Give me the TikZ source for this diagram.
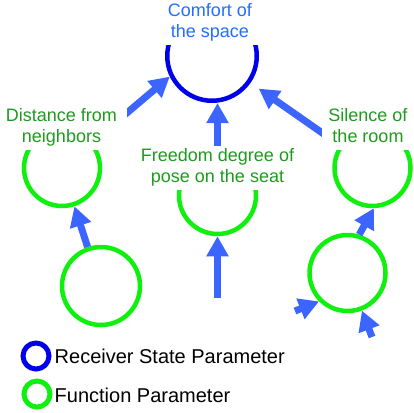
\documentclass[tikz,border=0pt]{standalone}
\usepackage{fontspec}
\setmainfont{Liberation Sans}
\usetikzlibrary{arrows.meta}
\definecolor{statblue}{RGB}{0,0,235}
\definecolor{funcgreen}{RGB}{15,240,15}
\definecolor{labgreen}{RGB}{30,155,30}
\definecolor{labblue}{RGB}{35,110,255}
\definecolor{arrblue}{RGB}{60,100,255}
\begin{document}
\begin{tikzpicture}[x=1pt,y=-1pt,
  param/.style={circle,draw,line width=4.5pt,inner sep=0pt,minimum size=#1},
  state/.style={param=#1,draw=statblue},
  func/.style={param=#1,draw=funcgreen},
  flow/.style={draw=arrblue,line width=7pt,-{Triangle[length=20pt,width=21pt]}},
  lab/.style={fill=white,align=center,inner xsep=2pt,inner ysep=1pt,anchor=south,
    font=\fontsize{18}{21}\selectfont},
  key/.style={anchor=base west,inner sep=0pt,font=\fontsize{20}{24}\selectfont}]
\useasboundingbox (0,0) rectangle (414,412);

% parameter circles
\node[state=89.5] (comfort) at (212,56) {};
\node[func=76] (dist) at (62,168) {};
\node[func=78] (distsrc) at (101,286) {};
\node[func=77] (pose) at (217.5,195.5) {};
\node[func=76] (silence) at (372.5,168) {};
\node[func=76] (silsrc) at (347.5,273) {};

% free tails of the incoming arrows
\coordinate (posein) at (217.5,298);
\coordinate (silinA) at (295,311);
\coordinate (silinB) at (372,337);

% influence arrows
\draw[flow] (distsrc.109) -- (dist.288);
\draw[flow] (posein) -- (pose.south);
\draw[flow] (pose.north) -- (pose.north |- comfort.south);
\draw[flow] (dist) -- (comfort.206);
\draw[flow,shorten >=10pt] (silence) -- (comfort);
\draw[flow] (silsrc.73) -- (silence.272);
\draw[flow] (silinA) -- (silsrc.225);
\draw[flow] (silinB) -- (silsrc.291);

% labels (white boxes cover the circle tops and arrow tails)
\node[lab,text=labblue,minimum width=100pt] (comfortlab) at (210,45.3)
  {\strut Comfort of\\the space\strut};
\node[lab,text=labgreen,minimum width=131pt] (distlab) at (61.5,150.3)
  {\strut Distance from\\neighbors\strut};
\node[lab,text=labgreen] (poselab) at (217.5,190.3)
  {\strut Freedom degree of\\pose on the seat\strut};
\node[lab,text=labgreen,minimum width=92pt] (silencelab) at (368,150.3)
  {\strut Silence of\\the room\strut};

% legend
\node[state=26,line width=5pt] (keystate) at (36,356) {};
\node[func=26,line width=5pt] (keyfunc) at (37,394) {};
\node[key] (keystatetxt) at (54.5,363) {Receiver State Parameter};
\node[key] (keyfunctxt) at (54.5,402) {Function Parameter};
\end{tikzpicture}
\end{document}
